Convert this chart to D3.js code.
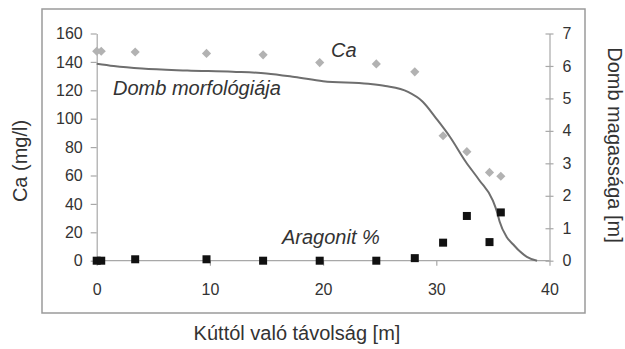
<!DOCTYPE html>
<html>
<head>
<meta charset="utf-8">
<script src="https://cdn.jsdelivr.net/npm/d3@7"></script>
<style>
  body { margin: 0; background: #fff; }
  svg { font-family: "Liberation Sans", Arial, sans-serif; }
</style>
</head>
<body>
<svg width="625" height="349"></svg>
<script>
// distances along the profile [m]
var distance = [0, 0.4, 3.4, 9.7, 14.7, 19.7, 24.7, 28.1, 30.6, 32.7, 34.7, 35.7];
var ca = [147.5, 147.5, 147, 146, 145, 139.5, 138.6, 133, 88, 76.8, 62.2, 59.5];
var aragonit = [0, 0, 1, 1, 0, 0, 0, 1.8, 12.7, 31.5, 13.1, 34];

// hill profile (distance, height)
var profileX = [0, 1.5, 4, 8, 12, 15, 17.5, 20, 24, 25.5, 27.5, 28.8, 30, 31.2, 32.6, 33.8, 35, 35.4, 35.6, 36.2, 36.8, 37.4, 38, 38.9];
var profileY = [6.07, 6.0, 5.92, 5.86, 5.82, 5.77, 5.66, 5.53, 5.45, 5.38, 5.2, 4.9, 4.38, 3.82, 3.05, 2.48, 1.85, 1.46, 1.2, 0.74, 0.5, 0.28, 0.12, 0];

var xTicks = [0, 10, 20, 30, 40];
var leftTicks = [0, 20, 40, 60, 80, 100, 120, 140, 160];
var rightTicks = [0, 1, 2, 3, 4, 5, 6, 7];

var svg = d3.select('svg');

var x = d3.scaleLinear().domain([0, 40]).range([96.7, 549.5]);
var yL = d3.scaleLinear().domain([0, 160]).range([260.7, 33.5]);
var yR = d3.scaleLinear().domain([0, 7]).range([260.7, 33.5]);

var axisColor = '#a8a8a8';
var textColor = '#333';

// outer frame
svg.append('rect')
   .attr('x', 42).attr('y', 9)
   .attr('width', 543).attr('height', 304)
   .attr('fill', 'none')
   .attr('stroke', '#9a9a9a')
   .attr('stroke-width', 1.5);

function styleAxis(g) {
  g.selectAll('path').attr('stroke', axisColor).attr('stroke-width', 1.2);
  g.selectAll('line').attr('stroke', axisColor).attr('stroke-width', 1.2);
  g.selectAll('text').attr('fill', textColor).style('font-size', '16px');
}

// x axis
svg.append('g')
   .attr('transform', 'translate(0,' + yL(0) + ')')
   .call(d3.axisBottom(x).tickValues(xTicks).tickSize(5).tickSizeOuter(0).tickPadding(18))
   .call(styleAxis)
   .call(function(g) { g.select('.domain').remove(); });

svg.append('line')
   .attr('x1', x(0)).attr('x2', x(40))
   .attr('y1', yL(0)).attr('y2', yL(0))
   .attr('stroke', axisColor).attr('stroke-width', 1.2);

// left axis
svg.append('g')
   .attr('transform', 'translate(' + x(0) + ',0)')
   .call(d3.axisLeft(yL).tickValues(leftTicks).tickSize(6).tickSizeOuter(0).tickPadding(8))
   .call(styleAxis);

// right axis with cross ticks
var rAxis = svg.append('g')
   .attr('transform', 'translate(' + x(40) + ',0)')
   .call(d3.axisRight(yR).tickValues(rightTicks).tickFormat(d3.format('d'))
           .tickSize(4).tickSizeOuter(0).tickPadding(9))
   .call(styleAxis);
rAxis.selectAll('.tick line').attr('x1', -4);

// hill profile line
var profile = profileX.map(function(d, i) { return [d, profileY[i]]; });
svg.append('path')
   .datum(profile)
   .attr('fill', 'none')
   .attr('stroke', '#6e6e6e')
   .attr('stroke-width', 2)
   .attr('d', d3.line()
      .x(function(d) { return x(d[0]); })
      .y(function(d) { return yR(d[1]); })
      .curve(d3.curveMonotoneX));

// Ca diamonds
svg.selectAll('.ca')
   .data(distance)
   .enter().append('path')
   .attr('class', 'ca')
   .attr('d', d3.symbol().type(d3.symbolSquare).size(42))
   .attr('transform', function(d, i) {
     return 'translate(' + x(d) + ',' + yL(ca[i]) + ') rotate(45)';
   })
   .attr('fill', '#b2b2b2');

// Aragonite squares
svg.selectAll('.ar')
   .data(distance)
   .enter().append('rect')
   .attr('class', 'ar')
   .attr('x', function(d) { return x(d) - 4; })
   .attr('y', function(d, i) { return yL(aragonit[i]) - 4; })
   .attr('width', 8).attr('height', 8)
   .attr('fill', '#111');

// series labels
svg.append('text')
   .attr('x', 331).attr('y', 57)
   .style('font-size', '20px').style('font-style', 'italic')
   .attr('fill', textColor)
   .text('Ca');

svg.append('text')
   .attr('x', 113).attr('y', 95)
   .style('font-size', '20px').style('font-style', 'italic')
   .attr('fill', textColor)
   .text('Domb morfológiája');

svg.append('text')
   .attr('x', 282).attr('y', 244)
   .style('font-size', '20px').style('font-style', 'italic')
   .attr('fill', textColor)
   .text('Aragonit %');

// axis titles
svg.append('text')
   .attr('transform', 'translate(27,161) rotate(-90)')
   .style('text-anchor', 'middle')
   .style('font-size', '20px')
   .attr('fill', textColor)
   .text('Ca (mg/l)');

svg.append('text')
   .attr('transform', 'translate(608,145) rotate(90)')
   .style('text-anchor', 'middle')
   .style('font-size', '20px')
   .attr('fill', textColor)
   .text('Domb magassága [m]');

svg.append('text')
   .attr('x', 297).attr('y', 340)
   .style('text-anchor', 'middle')
   .style('font-size', '20px')
   .attr('fill', textColor)
   .text('Kúttól való távolság [m]');
</script>
</body>
</html>
